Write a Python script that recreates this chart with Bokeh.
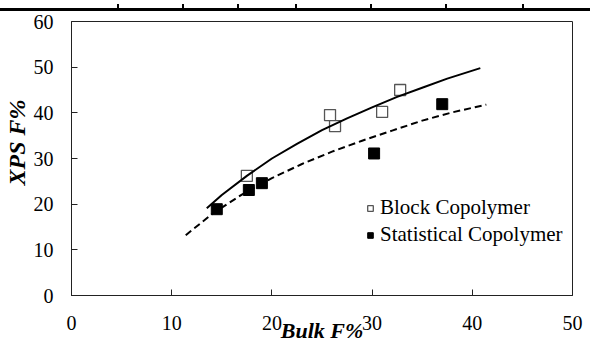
from bokeh.plotting import figure
from bokeh.models import Range1d, SingleIntervalTicker, Legend, LegendItem, Div, Title
from bokeh.layouts import column
from bokeh.embed import file_html
from bokeh.resources import INLINE

# Data
block_x = [17.5, 25.8, 26.3, 31.0, 32.8]
block_y = [26.2, 39.5, 37.1, 40.2, 45.0]
stat_x = [14.5, 17.7, 19.0, 30.2, 37.0]
stat_y = [18.9, 23.1, 24.6, 31.1, 41.9]

# trend lines
block_fit_x = [13.5, 15.0, 17.5, 20.0, 22.5, 25.0, 27.5, 30.0, 32.5, 35.0, 37.5, 40.8]
block_fit_y = [19.1, 22.0, 26.2, 30.0, 33.2, 36.2, 38.8, 41.2, 43.5, 45.5, 47.5, 49.8]
stat_fit_x = [11.4, 14.0, 17.0, 20.0, 23.0, 26.0, 29.0, 32.0, 35.0, 38.0, 41.4]
stat_fit_y = [13.2, 17.8, 22.1, 25.7, 28.8, 31.5, 33.9, 36.1, 38.3, 40.1, 41.8]

x_title = "Bulk F%"
y_title = "XPS F%"
legend_labels = ["Block Copolymer", "Statistical Copolymer"]

SERIF = "Liberation Serif"

p = figure(frame_width=501, frame_height=274, output_backend="svg", toolbar_location=None,
           x_range=Range1d(0, 50), y_range=Range1d(0, 60),
           min_border_left=71, min_border_right=18, min_border_top=13, min_border_bottom=48)
p.grid.visible = False
p.outline_line_color = "#222222"
p.outline_line_width = 1
p.background_fill_color = "white"
p.border_fill_alpha = 0

for ax in (p.xaxis[0], p.yaxis[0]):
    ax.ticker = SingleIntervalTicker(interval=10, num_minor_ticks=0)
    ax.major_tick_in = 6
    ax.major_tick_out = 0
    ax.minor_tick_line_color = None
    ax.axis_line_color = "#222222"
    ax.major_tick_line_color = "#222222"
    ax.major_label_text_font = SERIF
    ax.major_label_text_font_size = "20px"
    ax.major_label_text_color = "black"

p.xaxis[0].major_label_standoff = 20
p.yaxis[0].major_label_standoff = 18

p.xaxis[0].axis_label = x_title
p.xaxis[0].axis_label_text_font = SERIF
p.xaxis[0].axis_label_text_font_style = "bold italic"
p.xaxis[0].axis_label_text_font_size = "22px"
p.xaxis[0].axis_label_text_color = "black"
p.xaxis[0].axis_label_standoff = -15

# y title sits above the frame centre in the reference
p.add_layout(Title(text=y_title, align="left", offset=110, standoff=2,
                   text_font=SERIF, text_font_size="24px", text_font_style="bold italic",
                   text_color="black"), "left")

r_block = p.scatter(block_x, block_y, marker="square", size=11, fill_color="white",
                    line_color="#555555", line_width=1.3)
r_stat = p.scatter(stat_x, stat_y, marker="square", size=11, fill_color="black",
                   line_color="black")
p.line(block_fit_x, block_fit_y, line_color="black", line_width=2)
p.line(stat_fit_x, stat_fit_y, line_color="black", line_width=2, line_dash="7 4")

legend = Legend(items=[LegendItem(label=legend_labels[0], renderers=[r_block]),
                       LegendItem(label=legend_labels[1], renderers=[r_stat])],
                location=(292, 48), padding=0, margin=0, spacing=2,
                glyph_width=14, glyph_height=20, label_height=20, label_standoff=3,
                label_text_font=SERIF, label_text_font_size="21px",
                label_text_color="black",
                border_line_alpha=0, background_fill_alpha=0)
p.add_layout(legend)

bars = "".join(
    f'<div style="position:absolute;left:{x}px;top:0;width:2px;height:5px;background:#000"></div>'
    for x in [117, 182, 237, 295, 370, 445, 522])
top_html = ('<div style="position:relative;width:590px;height:8px;">'
            + bars +
            '<div style="position:absolute;left:0;top:4px;width:590px;height:3px;background:#000"></div>'
            '</div>')
top = Div(text=top_html, width=590, height=8, margin=0)

layout = column(top, p, spacing=0)
open("out.html", "w").write(file_html(layout, INLINE))
